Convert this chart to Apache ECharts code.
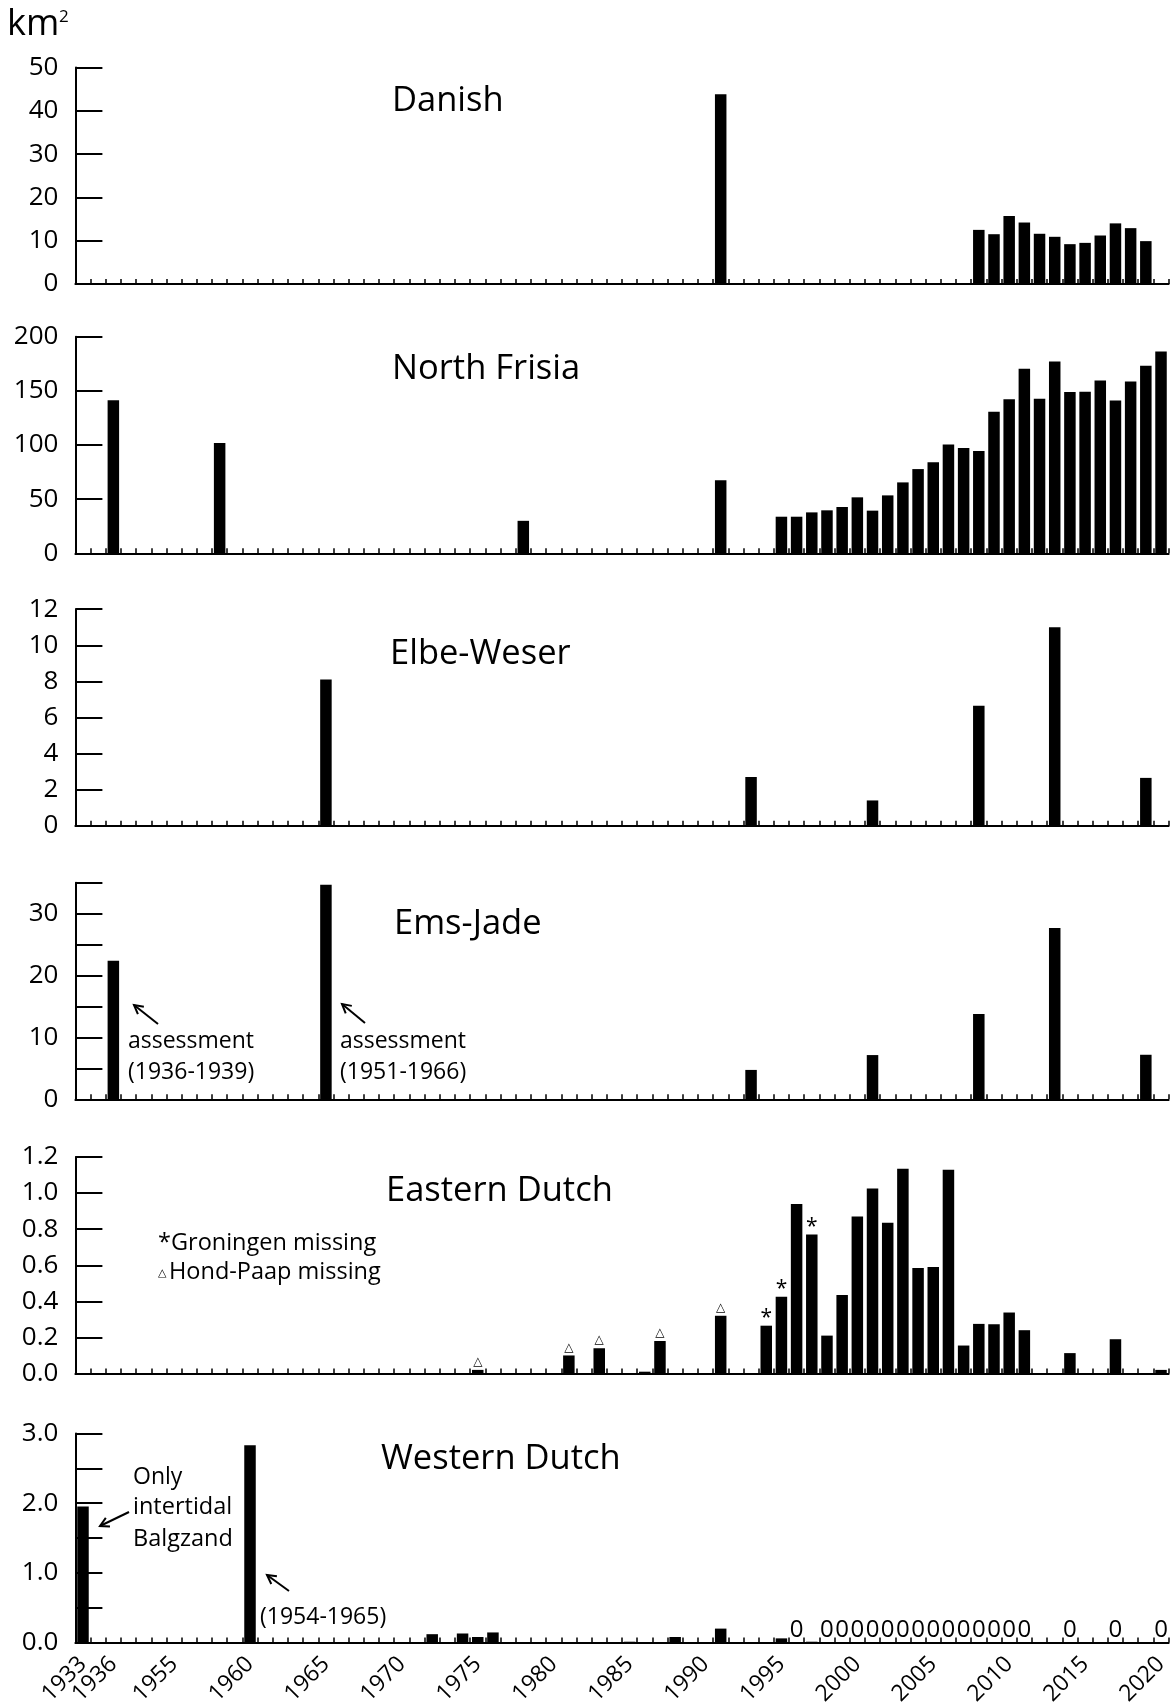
<!DOCTYPE html>
<html>
<head>
<meta charset="utf-8">
<title>Seagrass area by region</title>
<script src="https://cdn.jsdelivr.net/npm/echarts@6.0.0/dist/echarts.min.js"></script>
<style>
    html, body { margin: 0; padding: 0; background: #fff; }
    #main { width: 1176px; height: 1708px; }
</style>
</head>
<body>
<div id="main"></div>
<script>
    var FONT = '"Open Sans", "Noto Sans", sans-serif';

    // x axis: a few early years, then every year 1955-2020
    var categories = ['1933', '1934', '1936', '1937', '1938', '1939'];
    for (var yr = 1955; yr <= 2020; yr++) categories.push(String(yr));
    var tickLabels = ['1933', '1936', '1955', '1960', '1965', '1970', '1975', '1980', '1985',
        '1990', '1995', '2000', '2005', '2010', '2015', '2020'];

    var regionNames = ['Danish', 'North Frisia', 'Elbe-Weser', 'Ems-Jade', 'Eastern Dutch', 'Western Dutch'];

    var danishYears = [1991, 2008, 2009, 2010, 2011, 2012, 2013, 2014, 2015, 2016, 2017, 2018, 2019];
    var danishValues = [43.8, 12.5, 11.5, 15.7, 14.2, 11.6, 10.9, 9.2, 9.5, 11.2, 14.0, 12.9, 9.9];

    var frisiaYears = [1936, 1958, 1978, 1991, 1995, 1996, 1997, 1998, 1999, 2000, 2001, 2002, 2003,
        2004, 2005, 2006, 2007, 2008, 2009, 2010, 2011, 2012, 2013, 2014, 2015, 2016, 2017, 2018, 2019, 2020];
    var frisiaValues = [141.5, 102, 30, 67.4, 33.8, 33.8, 37.8, 39.7, 42.8, 51.7, 39.4, 53.5, 65.5,
        77.8, 84, 100.6, 97.2, 94.5, 130.8, 142.2, 170.5, 142.8, 177.2, 148.9, 149.2, 159.7, 141.2, 158.8, 173.2, 186.5];

    var elbeYears = [1965, 1993, 2001, 2008, 2013, 2019];
    var elbeValues = [8.1, 2.7, 1.4, 6.65, 11.0, 2.65];

    var emsYears = [1936, 1965, 1993, 2001, 2008, 2013, 2019];
    var emsValues = [22.4, 34.7, 4.75, 7.15, 13.8, 27.7, 7.2];

    var eastYears = [1975, 1981, 1983, 1986, 1987, 1991, 1994, 1995, 1996, 1997, 1998, 1999, 2000, 2001,
        2002, 2003, 2004, 2005, 2006, 2007, 2008, 2009, 2010, 2011, 2014, 2017, 2020];
    var eastValues = [0.02, 0.10, 0.14, 0.01, 0.18, 0.32, 0.265, 0.425, 0.94, 0.77, 0.21, 0.435, 0.87, 1.025,
        0.835, 1.135, 0.585, 0.59, 1.13, 0.155, 0.275, 0.273, 0.338, 0.24, 0.113, 0.19, 0.02];
    var eastTriangleYears = [1975, 1981, 1983, 1987, 1991];   // Hond-Paap missing
    var eastStarYears = [1994, 1995, 1997];                   // Groningen missing

    var westYears = [1933, 1960, 1972, 1974, 1975, 1976, 1985, 1988, 1991, 1995, 1996, 1997, 1998, 1999,
        2000, 2001, 2002, 2003, 2004, 2005, 2006, 2007, 2008, 2009, 2010, 2011, 2014, 2017, 2020];
    var westValues = [1.95, 2.83, 0.12, 0.13, 0.08, 0.145, 0.012, 0.08, 0.2, 0.06, 0, 0.012, 0, 0,
        0, 0, 0, 0, 0, 0, 0, 0, 0, 0, 0, 0, 0, 0, 0];

    var yMax = [50, 200, 12, 35, 1.2, 3];
    var yStep = [10, 50, 2, 5, 0.2, 0.5];
    var yLabelStep = [10, 50, 2, 10, 0.2, 1];
    var yDecimals = [0, 0, 0, 0, 1, 1];

    var gridTops = [67.5, 336.8, 609.2, 882.8, 1157, 1433.4];
    var gridHeight = 216.5;

    function buildData(years, values, labelFor) {
        return years.map(function (y, k) {
            var item = { value: [String(y), values[k]] };
            var lab = labelFor ? labelFor(y, values[k]) : null;
            if (lab) item.label = lab;
            return item;
        });
    }

    function eastLabel(y) {
        if (eastTriangleYears.indexOf(y) >= 0) {
            return { show: true, formatter: '\u25B3', fontSize: 12, fontFamily: '"DejaVu Sans"', distance: 2 };
        }
        if (eastStarYears.indexOf(y) >= 0) {
            return { show: true, formatter: '*', fontSize: 21, distance: -3 };
        }
        return null;
    }

    function westLabel(y, v) {
        if (v === 0) return { show: true, formatter: '0', fontSize: 24, distance: 0 };
        return null;
    }

    var seriesData = [
        buildData(danishYears, danishValues),
        buildData(frisiaYears, frisiaValues),
        buildData(elbeYears, elbeValues),
        buildData(emsYears, emsValues),
        buildData(eastYears, eastValues, eastLabel),
        buildData(westYears, westValues, westLabel)
    ];

    function yFormatter(i) {
        return function (v) {
            var r = v / yLabelStep[i];
            if (Math.abs(r - Math.round(r)) > 1e-6) return '';
            return v.toFixed(yDecimals[i]);
        };
    }

    // the year labels under the bottom panel; shown only for the listed values
    function yearLabels(keep) {
        return {
            interval: function (idx, val) { return keep(val); },
            hideOverlap: false,
            rotate: 45,
            margin: 18,
            fontSize: 23,
            color: '#000',
            fontFamily: FONT
        };
    }

    var grids = [], xAxes = [], yAxes = [], series = [];
    for (var i = 0; i < 6; i++) {
        grids.push({ left: 75.4, right: 7.4, top: gridTops[i], height: gridHeight });
        xAxes.push({
            type: 'category',
            gridIndex: i,
            data: categories,
            boundaryGap: true,
            axisLine: { lineStyle: { color: '#000', width: 2 } },
            axisTick: { show: true, inside: true, interval: 0, length: 5, lineStyle: { color: '#000', width: 1.5 } },
            axisLabel: i === 5
                ? yearLabels(function (v) { return v !== categories[0] && tickLabels.indexOf(v) >= 0; })
                : { show: false },
            splitLine: { show: false }
        });
        yAxes.push({
            type: 'value',
            gridIndex: i,
            min: 0,
            max: yMax[i],
            interval: yStep[i],
            axisLine: { show: true, lineStyle: { color: '#000', width: 2 } },
            axisTick: { show: true, inside: true, length: 27, lineStyle: { color: '#000', width: 2 } },
            axisLabel: { fontSize: 26, color: '#000', margin: 17, fontFamily: FONT, formatter: yFormatter(i) },
            splitLine: { show: false }
        });
        series.push({
            type: 'bar',
            name: regionNames[i],
            xAxisIndex: i,
            yAxisIndex: i,
            barWidth: 11.5,
            itemStyle: { color: '#000' },
            label: { show: false, position: 'top', color: '#000', fontFamily: FONT },
            emphasis: { disabled: true },
            data: seriesData[i]
        });
    }
    // second bottom axis only for the first year, so the overlapping 1933/1936 labels both stay
    xAxes.push({
        type: 'category',
        gridIndex: 5,
        position: 'bottom',
        data: categories,
        boundaryGap: true,
        axisLine: { show: false },
        axisTick: { show: false },
        axisLabel: yearLabels(function (v) { return v === categories[0]; }),
        splitLine: { show: false }
    });

    function text(x, y, str, size, family) {
        return {
            type: 'text', x: x, y: y,
            style: {
                text: str, fill: '#000', fontSize: size, fontFamily: family || FONT,
                textAlign: 'left', align: 'left', textVerticalAlign: 'middle', verticalAlign: 'middle'
            }
        };
    }

    // arrow from tail (x1, y1) to tip (x2, y2)
    function arrow(x1, y1, x2, y2) {
        var a = Math.atan2(y2 - y1, x2 - x1), h = 10, s = 0.5;
        return [
            { type: 'line', shape: { x1: x1, y1: y1, x2: x2, y2: y2 }, style: { stroke: '#000', lineWidth: 2 } },
            {
                type: 'polyline',
                shape: { points: [[x2 - h * Math.cos(a - s), y2 - h * Math.sin(a - s)], [x2, y2],
                    [x2 - h * Math.cos(a + s), y2 - h * Math.sin(a + s)]] },
                style: { stroke: '#000', lineWidth: 2, fill: null }
            }
        ];
    }

    var titlePos = [[392, 101], [392, 369], [390, 654], [394, 924], [386, 1191], [381, 1459]];
    var graphics = [text(7, 25, 'km', 36), text(59, 17, '2', 17)];
    regionNames.forEach(function (n, k) {
        graphics.push(text(titlePos[k][0], titlePos[k][1], n, 34.5));
    });
    graphics = graphics.concat(
        arrow(158, 1024, 134, 1005),
        [text(128, 1041, 'assessment', 23), text(128, 1072, '(1936-1939)', 23)],
        arrow(365, 1023, 342, 1004),
        [text(340, 1041, 'assessment', 23), text(340, 1072, '(1951-1966)', 23)],
        [text(158, 1243, '*Groningen missing', 23.5)],
        [text(158, 1273, '\u25B3', 11, '"DejaVu Sans"'), text(169, 1272, 'Hond-Paap missing', 23.5)],
        [text(133, 1477, 'Only', 23), text(133, 1507, 'intertidal', 23.5), text(133, 1539, 'Balgzand', 23.5)],
        arrow(129, 1512, 100, 1526),
        arrow(289, 1591, 267, 1575),
        [text(260, 1617, '(1954-1965)', 23)]
    );

    var myChart = echarts.init(document.getElementById('main'));
    myChart.setOption({
        animation: false,
        backgroundColor: '#fff',
        textStyle: { fontFamily: FONT },
        grid: grids,
        xAxis: xAxes,
        yAxis: yAxes,
        series: series,
        graphic: graphics
    });
    window.addEventListener('resize', function () {
        myChart.resize();
    });
</script>
</body>
</html>
